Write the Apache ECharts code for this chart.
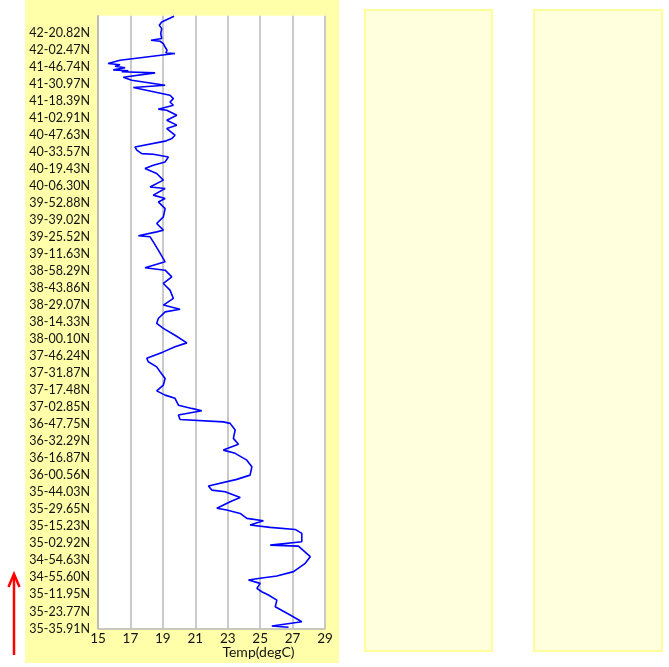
<!DOCTYPE html>
<html>
<head>
<meta charset="utf-8">
<script src="https://cdn.jsdelivr.net/npm/echarts@6/dist/echarts.min.js"></script>
<style>html,body{margin:0;padding:0;background:#fff;}#c{width:669px;height:667px;}</style>
</head>
<body>
<div id="c"></div>
<script>
// Latitude tick labels, bottom (0) to top (35)
var latLabels = ["35-35.91N","35-23.77N","35-11.95N","34-55.60N","34-54.63N","35-02.92N","35-15.23N","35-29.65N","35-44.03N","36-00.56N","36-16.87N","36-32.29N","36-47.75N","37-02.85N","37-17.48N","37-31.87N","37-46.24N","38-00.10N","38-14.33N","38-29.07N","38-43.86N","38-58.29N","39-11.63N","39-25.52N","39-39.02N","39-52.88N","40-06.30N","40-19.43N","40-33.57N","40-47.63N","41-02.91N","41-18.39N","41-30.97N","41-46.74N","42-02.47N","42-20.82N"];

// Temperature trace (degC), read top to bottom
var temps = [19.69,18.93,18.78,18.93,18.87,18.93,18.27,18.83,19.03,19.14,19.26,19.18,19.75,16.36,15.62,16.36,16.05,16.67,15.94,16.87,16.46,18.52,16.56,17.08,19.14,17.18,19.44,19.65,19.44,19.65,18.72,19.24,19.86,19.24,19.86,19.24,19.75,19.55,19.14,17.28,17.39,17.70,18.41,19.34,19.14,18.41,17.90,18.62,19.03,18.21,19.14,18.41,19.14,18.72,19.14,19.03,18.62,19.03,18.62,17.49,18.21,18.41,18.72,19.14,17.90,19.14,19.55,19.03,19.44,19.65,19.03,20.06,19.14,18.72,18.62,19.03,19.75,20.48,19.75,19.03,18.01,18.10,18.62,18.83,19.14,19.03,18.62,19.14,19.75,19.96,20.78,21.40,19.96,20.06,22.73,23.15,23.46,23.35,23.66,22.73,23.46,24.18,24.49,24.38,23.56,21.81,22.02,22.84,23.77,23.15,22.33,22.94,23.77,24.18,25.20,24.38,25.62,27.16,27.57,27.57,25.62,27.36,28.09,27.78,27.06,26.03,25.00,24.28,25.00,24.80,25.10,25.51,26.03,25.93,26.85,27.57,25.72,26.75];

// Track position along the y axis (label units)
var positions = [35.97,35.63,35.44,35.24,34.95,34.66,34.56,34.50,34.36,34.16,33.97,33.81,33.78,33.38,33.19,33.12,33.03,32.94,32.82,32.77,32.71,32.64,32.38,32.21,31.91,31.78,31.33,31.13,30.93,30.74,30.51,30.45,30.15,29.86,29.57,29.37,28.98,28.78,28.63,28.29,28.10,27.90,27.86,27.70,27.41,27.22,27.02,26.73,26.34,25.94,25.85,25.46,25.26,25.06,24.67,24.18,23.79,23.40,23.30,23.07,23.01,22.71,22.23,21.54,21.19,21.05,20.66,20.27,19.88,19.39,19.00,18.76,18.60,18.21,17.92,17.63,17.23,16.78,16.55,16.25,15.87,15.67,15.37,15.08,14.69,14.30,13.96,13.71,13.52,13.12,12.93,12.79,12.54,12.28,12.14,12.05,11.66,11.17,10.82,10.48,10.29,9.89,9.50,9.01,8.76,8.37,8.13,8.03,7.70,7.45,7.06,6.96,6.76,6.47,6.33,6.08,5.94,5.82,5.59,5.10,4.90,4.84,4.22,3.83,3.34,3.08,2.95,2.85,2.65,2.36,2.16,1.97,1.67,1.28,0.79,0.40,0.15,0.07];

var xTitle = "Temp(degC)";

var data = temps.map(function (t, i) { return [t, positions[i]]; });

var chart = echarts.init(document.getElementById('c'), null, {renderer: 'canvas'});
var gridColor = '#b8b8b8';
var fontFam = 'Lato, "Open Sans", sans-serif';

chart.setOption({
  backgroundColor: '#ffffff',
  animation: false,
  grid: {
    left: 98, top: 15.7, right: 344, bottom: 38.5,
    show: true, backgroundColor: '#ffffff', borderWidth: 0
  },
  xAxis: {
    type: 'value', min: 15, max: 29, interval: 2,
    axisLine: {show: true, lineStyle: {color: gridColor, width: 1.5}},
    axisTick: {show: false},
    splitLine: {show: true, lineStyle: {color: gridColor, width: 1.5}},
    axisLabel: {color: '#111', fontFamily: fontFam, fontSize: 13.5, margin: 3}
  },
  yAxis: {
    type: 'value', min: 0, max: 36, interval: 1,
    axisLine: {show: true, lineStyle: {color: gridColor, width: 1.5}},
    axisTick: {show: false},
    splitLine: {show: false},
    axisLabel: {
      color: '#111', fontFamily: fontFam, fontSize: 12.5, margin: 8,
      formatter: function (v) {
        var k = Math.round(v);
        return (Math.abs(v - k) < 1e-6 && latLabels[k]) ? latLabels[k] : '';
      }
    }
  },
  series: [{
    type: 'line', data: data, showSymbol: false, symbol: 'none',
    lineStyle: {color: '#0000ff', width: 1.6}, z: 5
  }],
  graphic: [
    {type: 'rect', z: -10, shape: {x: 25, y: 0, width: 314, height: 663}, style: {fill: '#ffffaa'}},
    {type: 'rect', z: -10, shape: {x: 365, y: 10, width: 127, height: 641}, style: {fill: '#ffffdd', stroke: '#ffff99', lineWidth: 2}},
    {type: 'rect', z: -10, shape: {x: 534, y: 10, width: 128, height: 641}, style: {fill: '#ffffdd', stroke: '#ffff99', lineWidth: 2}},
    {type: 'text', z: 10, style: {text: xTitle, x: 258.5, y: 652, align: 'center', verticalAlign: 'middle', fill: '#111', font: '14px ' + fontFam}},
    {type: 'line', z: 10, shape: {x1: 14, y1: 655, x2: 14, y2: 576}, style: {stroke: '#ff0000', lineWidth: 2.5}},
    {type: 'polyline', z: 10, shape: {points: [[8.5, 587], [14, 574], [19.5, 587]]}, style: {stroke: '#ff0000', lineWidth: 2.5, fill: null}}
  ]
});
</script>
</body>
</html>
